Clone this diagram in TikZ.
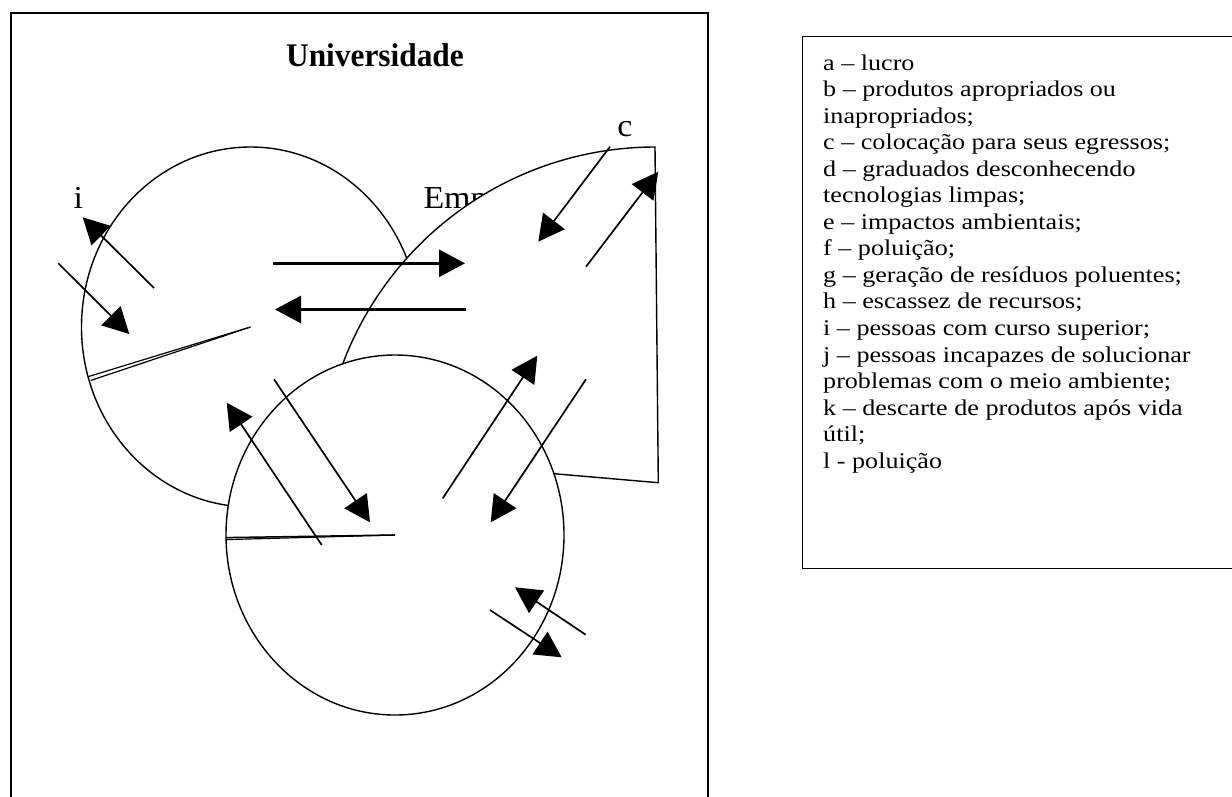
\documentclass[tikz,border=0pt]{standalone}
\usepackage{fontspec}
\setmainfont{Liberation Serif}
\newfontfamily\legfont[FakeStretch=1.16]{Liberation Serif}
\newfontfamily\lblfont[FakeStretch=1.06]{Liberation Serif}
\newfontfamily\titfont[FakeStretch=0.95]{Liberation Serif}
\usetikzlibrary{arrows.meta}
\begin{document}
\begin{tikzpicture}[x=1pt,y=-1pt,
  shp/.style={draw=black, fill=white, line width=1.4pt},
  rad/.style={draw=black, line width=1.2pt},
  arr/.style={draw=black, line width=1.7pt, -{Triangle[length=26pt,width=27pt]}},
  thickarr/.style={arr, line width=3pt},
  leg/.style={anchor=base west, inner sep=0pt, font=\legfont\fontsize{22.5}{26.55}\selectfont},
  lbl/.style={anchor=base, inner sep=0pt, font=\lblfont\fontsize{32}{36}\selectfont},
  tit/.style={anchor=base, inner sep=0pt, font=\titfont\bfseries\fontsize{33}{38}\selectfont},
]
\useasboundingbox (0,0) rectangle (1232,796);

% outer frame
\coordinate (fbl) at (11,800);
\coordinate (ftl) at (11,13);
\coordinate (ftr) at (708,13);
\coordinate (fbr) at (708,800);
\draw[line width=2.5pt] (fbl) -- (ftl) -- (ftr) -- (fbr);

% legend box
\coordinate (lgtr) at (1240,36);
\coordinate (lgtl) at (802,36);
\coordinate (lgbl) at (802,568);
\coordinate (lgbr) at (1240,568);
\draw[line width=1pt] (lgtr) -- (lgtl) -- (lgbl) -- (lgbr);

% title
\node[tit] (univ) at (375,66.5) {Universidade};

% left ellipse (Universidade)
\coordinate (uc) at (250.5,327);
\path[shp] (uc) ellipse [x radius=169, y radius=180];
\coordinate (ur1) at (88.3,376.6);
\coordinate (ur2) at (90.8,380.4);
\draw[rad] (uc) -- (ur1);
\draw[rad] (uc) -- (ur2);

% label partly hidden by the Empresa shape
\node[lbl, anchor=base west] (emp) at (423.3,208.3) {Emp};

% Empresa sector
\coordinate (ec) at (658.3,482.7);
\path[shp] (ec) -- plot[domain=270:185, samples=90, variable=\t] ({655+334*cos(\t)},{483+336*sin(\t)}) -- cycle;

% bottom ellipse
\coordinate (bc) at (395,535);
\path[shp] (bc) ellipse [x radius=169, y radius=180];
\coordinate (bl1) at (226,537.6);
\coordinate (bl2) at (226,539.6);
\draw[rad, line width=1.5pt] (bc) -- (bl1);
\draw[rad] (bc) -- (bl2);

% arrow end points
\coordinate (a1s) at (154,288);     \coordinate (a1e) at (82.7,217.3);
\coordinate (a2s) at (58.3,263.3);  \coordinate (a2e) at (129.3,334);
\coordinate (a3s) at (273.3,263.3); \coordinate (a3e) at (465,263.3);
\coordinate (a4s) at (466,309.5);   \coordinate (a4e) at (275,309.5);
\coordinate (a5s) at (610,146.7);   \coordinate (a5e) at (538.3,241.7);
\coordinate (a6s) at (586,266.7);   \coordinate (a6e) at (658.3,171.7);
\coordinate (a7s) at (442.7,498.3); \coordinate (a7e) at (537.3,355.7);
\coordinate (a8s) at (586,379.3);   \coordinate (a8e) at (490.7,522.3);
\coordinate (a9s) at (321.7,545);   \coordinate (a9e) at (226.7,402.7);
\coordinate (a10s) at (274,379.3);  \coordinate (a10e) at (370,522.3);
\coordinate (a11s) at (585.7,634.7);\coordinate (a11e) at (515,587.3);
\coordinate (a12s) at (490,610);    \coordinate (a12e) at (561.7,657.3);

\draw[arr] (a1s) -- (a1e);
\draw[arr] (a2s) -- (a2e);
\draw[thickarr] (a3s) -- (a3e);
\draw[thickarr] (a4s) -- (a4e);
\draw[arr] (a5s) -- (a5e);
\draw[arr] (a6s) -- (a6e);
\draw[arr] (a7s) -- (a7e);
\draw[arr] (a8s) -- (a8e);
\draw[arr] (a9s) -- (a9e);
\draw[arr] (a10s) -- (a10e);
\draw[arr] (a11s) -- (a11e);
\draw[arr] (a12s) -- (a12e);

% labels
\node[lbl] (li) at (78.3,208.3) {i};
\node[lbl] (lc) at (625,136.7) {c};

% legend text
\node[leg] (l01) at (823,70.00) {a – lucro};
\node[leg] (l02) at (823,96.55) {b – produtos apropriados ou};
\node[leg] (l03) at (823,123.10) {inapropriados;};
\node[leg] (l04) at (823,149.65) {c – colocação para seus egressos;};
\node[leg] (l05) at (823,176.20) {d – graduados desconhecendo};
\node[leg] (l06) at (823,202.75) {tecnologias limpas;};
\node[leg] (l07) at (823,229.30) {e – impactos ambientais;};
\node[leg] (l08) at (823,255.85) {f – poluição;};
\node[leg] (l09) at (823,282.40) {g – geração de resíduos poluentes;};
\node[leg] (l10) at (823,308.95) {h – escassez de recursos;};
\node[leg] (l11) at (823,335.50) {i – pessoas com curso superior;};
\node[leg] (l12) at (823,362.05) {j – pessoas incapazes de solucionar};
\node[leg] (l13) at (823,388.60) {problemas com o meio ambiente;};
\node[leg] (l14) at (823,415.15) {k – descarte de produtos após vida};
\node[leg] (l15) at (823,441.70) {útil;};
\node[leg] (l16) at (823,468.25) {l - poluição};
\end{tikzpicture}
\end{document}
